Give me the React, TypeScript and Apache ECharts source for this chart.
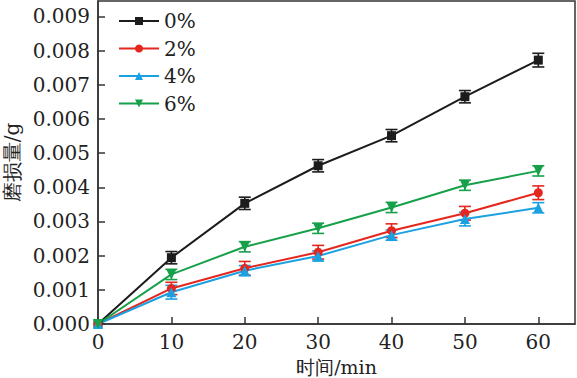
import React, { useEffect, useRef } from "react";
import * as echarts from "echarts";

const times = [0, 10, 20, 30, 40, 50, 60];
const seriesNames = ["0%", "2%", "4%", "6%"];
const wear0 = [0, 0.00194, 0.00353, 0.00463, 0.00551, 0.00665, 0.00772];
const wear2 = [0, 0.00104, 0.00163, 0.0021, 0.00273, 0.00324, 0.00384];
const wear4 = [0, 0.00093, 0.00156, 0.00199, 0.0026, 0.00307, 0.0034];
const wear6 = [0, 0.00145, 0.00226, 0.0028, 0.00341, 0.00406, 0.00448];
const err0 = [0, 0.00018, 0.00018, 0.00018, 0.00018, 0.00018, 0.0002];
const err2 = [0, 0.00018, 0.0002, 0.0002, 0.0002, 0.0002, 0.0002];
const err4 = [0, 0.0002, 0.00015, 0.00015, 0.00015, 0.0002, 0.00015];
const err6 = [0, 0.00015, 0.00015, 0.00015, 0.00015, 0.00015, 0.00015];
const xTicks = [0, 10, 20, 30, 40, 50, 60];
const yTicks = [0, 0.001, 0.002, 0.003, 0.004, 0.005, 0.006, 0.007, 0.008, 0.009];

const colors = ["#1c1c1c", "#e5261e", "#1ba1e2", "#17a04a"];
const symbols = ["rect", "circle", "triangle", "path://M0,0 L10,0 L5,10 Z"];
const symbolSizes = [9, 9, 10, 10];
const FONT = "DejaVu Serif";

export default function App() {
  const ref = useRef<HTMLDivElement>(null);
  useEffect(() => {
    const chart = echarts.init(ref.current!, undefined, { renderer: "svg" });
    const values = [wear0, wear2, wear4, wear6];
    const errs = [err0, err2, err4, err6];
    const lineSeries: any[] = values.map((vals, i) => ({
      name: seriesNames[i],
      type: "line",
      data: times.map((t, j) => [t, vals[j]]),
      symbol: symbols[i],
      symbolSize: symbolSizes[i],
      showSymbol: true,
      itemStyle: { color: colors[i] },
      lineStyle: { color: colors[i], width: 2 },
      z: 3,
    }));
    const errSeries: any[] = values.map((vals, i) => ({
      name: "err" + i,
      type: "custom",
      data: times.map((t, j) => [t, vals[j] - errs[i][j], vals[j] + errs[i][j]]).filter((d, j) => j > 0),
      renderItem: (params: any, api: any) => {
        const x = api.value(0);
        const lo = api.coord([x, api.value(1)]);
        const hi = api.coord([x, api.value(2)]);
        const hw = 6;
        const style = { stroke: colors[i], lineWidth: 1.6 };
        return {
          type: "group",
          children: [
            { type: "line", shape: { x1: lo[0], y1: lo[1], x2: hi[0], y2: hi[1] }, style },
            { type: "line", shape: { x1: lo[0] - hw, y1: lo[1], x2: lo[0] + hw, y2: lo[1] }, style },
            { type: "line", shape: { x1: hi[0] - hw, y1: hi[1], x2: hi[0] + hw, y2: hi[1] }, style },
          ],
        };
      },
      z: 2,
      silent: true,
    }));
    chart.setOption({
      animation: false,
      backgroundColor: "#ffffff",
      grid: {
        left: 98,
        right: 2,
        top: 1,
        bottom: 54,
        show: true,
        borderColor: "#333",
        borderWidth: 1.5,
        containLabel: false,
        outerBoundsMode: "none",
      },
      legend: {
        data: seriesNames,
        orient: "vertical",
        left: 113,
        top: 6,
        itemWidth: 40,
        itemHeight: 10,
        itemGap: 7.5,
        textStyle: { fontFamily: FONT, fontSize: 20, color: "#222", lineHeight: 20 },
      },
      xAxis: {
        type: "value",
        min: 0,
        max: 65,
        interval: 5,
        name: "时间/min",
        nameLocation: "middle",
        nameGap: 32,
        nameTextStyle: { fontFamily: FONT, fontSize: 19, color: "#222", lineHeight: 20 },
        axisLine: { show: true, lineStyle: { color: "#333", width: 1.5 } },
        axisTick: { show: true, inside: true, length: 7, customValues: xTicks, lineStyle: { color: "#333", width: 1.5 } },
        axisLabel: { customValues: xTicks, fontFamily: FONT, fontSize: 20, color: "#222", margin: 8 },
        splitLine: { show: false },
      },
      yAxis: {
        type: "value",
        min: 0,
        max: 0.00945,
        name: "磨损量/g",
        nameLocation: "middle",
        nameGap: 76,
        nameTextStyle: { fontFamily: FONT, fontSize: 20, color: "#222" },
        axisLine: { show: true, lineStyle: { color: "#333", width: 1.5 } },
        axisTick: { show: true, inside: true, length: 7, customValues: yTicks, lineStyle: { color: "#333", width: 1.5 } },
        axisLabel: {
          customValues: yTicks,
          fontFamily: FONT,
          fontSize: 20,
          color: "#222",
          margin: 8,
          formatter: (v: number) => v.toFixed(3),
        },
        splitLine: { show: false },
      },
      series: [...errSeries, ...lineSeries],
    });
    return () => chart.dispose();
  }, []);
  return <div ref={ref} style={{ width: 577, height: 378, position: "absolute", left: 0, top: 0 }} />;
}
